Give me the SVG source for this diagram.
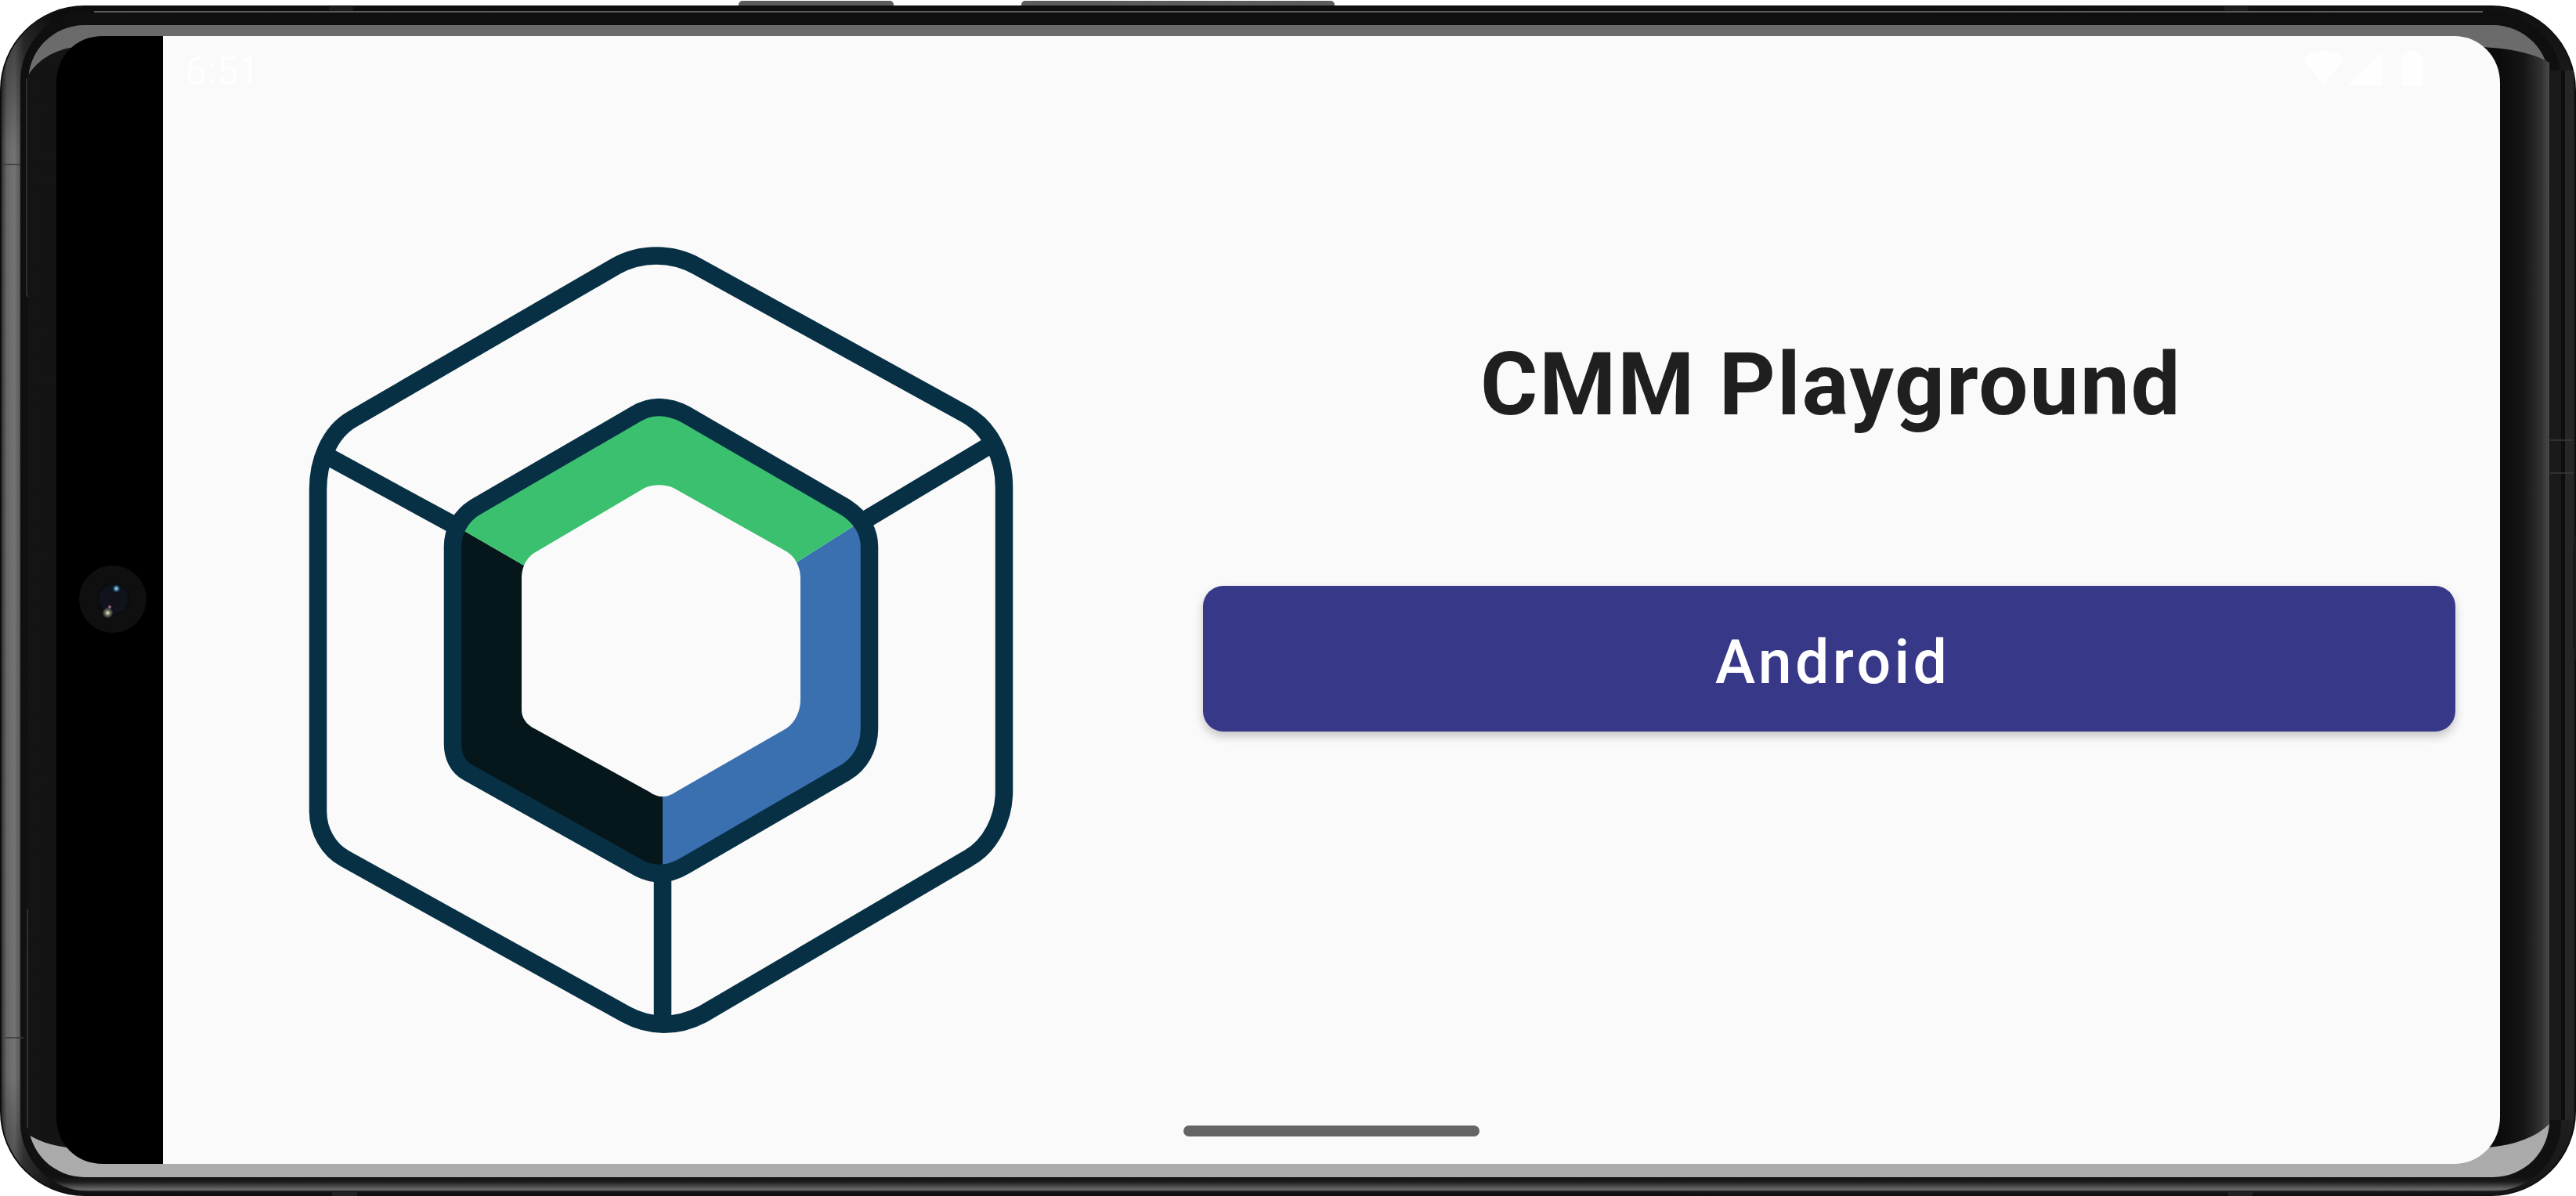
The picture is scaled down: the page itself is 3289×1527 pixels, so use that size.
<svg xmlns="http://www.w3.org/2000/svg" width="3289" height="1527" viewBox="0 0 3289 1527">
<style>
.title{font-family:Roboto,"Liberation Sans",sans-serif;font-weight:700;font-size:112px;letter-spacing:1.9px;fill:#1f1f1f}
.btn{font-family:Roboto,"Liberation Sans",sans-serif;font-weight:500;font-size:77px;letter-spacing:4.4px;fill:#fff}
.time{font-family:Roboto,"Liberation Sans",sans-serif;font-size:50px;fill:#fefefe}
.ln{fill:none;stroke:#083045;stroke-width:22.500;stroke-linejoin:round}
.seam{fill:none;stroke:#3a3a3a;stroke-width:1.5}
</style>
<defs>
<linearGradient id="rim" x1="0" x2="1" y1="0" y2="0">
<stop offset="0" stop-color="#333"/><stop offset=".002" stop-color="#666"/><stop offset=".005" stop-color="#747474"/><stop offset=".0085" stop-color="#444"/><stop offset=".02" stop-color="#1c1c1c"/><stop offset="1" stop-color="#242424"/>
</linearGradient>
<linearGradient id="rimfade" x1="0" x2="0" y1="0" y2="1">
<stop offset="0" stop-color="#000" stop-opacity=".55"/><stop offset=".12" stop-color="#000" stop-opacity="0"/><stop offset=".9" stop-color="#000" stop-opacity="0"/><stop offset="1" stop-color="#000" stop-opacity=".4"/>
</linearGradient>
<linearGradient id="glass" x1="0" x2="0" y1="0" y2="1">
<stop offset="0" stop-color="#6a6a6a"/><stop offset="1" stop-color="#acacac"/>
</linearGradient>
<linearGradient id="bez" x1="0" x2="1" y1="0" y2="0">
<stop offset="0" stop-color="#141414"/><stop offset=".98" stop-color="#0b0b0b"/><stop offset=".99" stop-color="#161616"/><stop offset=".997" stop-color="#333"/><stop offset="1" stop-color="#4a4a4a"/>
</linearGradient>
<linearGradient id="inner" x1="0" x2="0" y1="0" y2="1">
<stop offset="0" stop-color="#0f0f0f"/><stop offset=".988" stop-color="#111"/><stop offset=".992" stop-color="#1c1c1c"/><stop offset=".9985" stop-color="#6a6a6a"/><stop offset="1" stop-color="#333"/>
</linearGradient>
<radialGradient id="lens" cx=".5" cy=".5" r=".5">
<stop offset="0" stop-color="#140f16"/><stop offset=".75" stop-color="#10141e"/><stop offset="1" stop-color="#090b0d"/>
</radialGradient>
<radialGradient id="g1"><stop offset="0" stop-color="#dff2ff"/><stop offset=".4" stop-color="#3f86b0"/><stop offset="1" stop-color="#3f86b0" stop-opacity="0"/></radialGradient>
<radialGradient id="g2"><stop offset="0" stop-color="#f4f4d8"/><stop offset=".4" stop-color="#7a8068"/><stop offset="1" stop-color="#7a8068" stop-opacity="0"/></radialGradient>
<radialGradient id="g3"><stop offset="0" stop-color="#e0a0c0"/><stop offset="1" stop-color="#a06080" stop-opacity="0"/></radialGradient>
<filter id="sh" x="-5%" y="-20%" width="110%" height="140%"><feDropShadow dx="0" dy="6" stdDeviation="6" flood-color="#000" flood-opacity=".22"/></filter>
</defs>

<g id="phone-frame">
<rect width="3289" height="1527" fill="#fff"/>
<rect x="943" y="1" width="198" height="14" rx="5" fill="#5c5c5c"/>
<rect x="1304" y="1" width="400" height="14" rx="5" fill="#5c5c5c"/>
<rect x="0" y="7" width="3289" height="1520" rx="108" fill="#0e0e0e"/>
<rect x="2" y="9" width="3285" height="1516" rx="106" fill="url(#rim)"/>
<rect x="2" y="9" width="3285" height="1516" rx="106" fill="url(#rimfade)"/>
<rect x="26" y="15" width="3244" height="1506" rx="88" fill="url(#inner)"/>
<rect x="120" y="14" width="3050" height="2" fill="#5a5a5a"/>
<rect x="3256" y="90" width="14" height="1340" fill="#1a1a1a"/>
<rect x="3270" y="90" width="5" height="1340" fill="#0e0e0e"/>
<rect x="3275" y="90" width="11" height="1340" fill="#262626"/>
<path class="seam" d="M3256 562H3286M3256 604H3286"/>
<path fill="#1a1a1a" d="M3289 680l-4 20V825l4 20z"/>
<path class="seam" d="M4 210H26M6 1325H30"/>
<path class="seam" stroke-width="1" d="M34 100V376L43 389V1151L35 1163V1440"/>
<rect x="420" y="8" width="31" height="6" rx="2" fill="#1c1c1c"/>
<rect x="2840" y="8" width="31" height="6" rx="2" fill="#1c1c1c"/>
<rect x="424" y="1522" width="32" height="5" fill="#222"/>
<rect x="2845" y="1522" width="31" height="5" fill="#222"/>
<rect x="36" y="32" width="3219" height="1471" rx="72" fill="url(#glass)"/>
<path fill="url(#bez)" d="M36 96C48 76 72 62 98 60H3170C3205 62 3235 68 3255 80V1435C3238 1452 3210 1462 3177 1465H85C65 1462 46 1456 36 1448Z"/>
</g>

<g id="screen">
<path fill="#000" d="M132 46H300V1486H132C96 1486 72 1460 72 1426V106C72 72 96 46 132 46Z"/>
<path fill="#fafafa" d="M208 46H3133C3166 46 3192 72 3192 106V1426C3192 1460 3166 1486 3133 1486H208Z"/>
</g>

<g id="camera">
<circle cx="144" cy="765" r="43" fill="#0e0f0e"/>
<circle cx="145" cy="765" r="21" fill="url(#lens)"/>
<circle cx="148.500" cy="751.500" r="5" fill="url(#g1)"/>
<circle cx="137.500" cy="782.500" r="7" fill="url(#g2)"/>
<circle cx="140" cy="775" r="3" fill="url(#g3)"/>
</g>

<g id="status-bar">
<text class="time" x="236" y="108">6:51</text>
<path id="wifi" fill="#fefefe" d="M2940 75C2955 61 2978 61 2993 75L2966.500 109Z"/>
<path id="signal" fill="#fefefe" d="M2997 109L3042 66V109Z"/>
<path id="battery" fill="#fefefe" d="M3073 70V67C3073 66 3074 65 3075 65H3086C3087 65 3088 66 3088 67V70H3092C3093 70 3094 71 3094 72V108C3094 109 3093 110 3092 110H3069C3068 110 3067 109 3067 108V72C3067 71 3068 70 3069 70Z"/>
</g>

<g id="logo">
<path fill="#3a70b0" d="M1091 671L1017 718C1020 724 1022 730 1022 738V893C1022 910 1014 923 1004 930L863 1011C857 1015 852 1017 846 1017V1110L875 1105L1080 986C1098 975 1110 955 1110 930V698C1110 688 1100 678 1091 671Z"/>
<path fill="#05171b" d="M593 678L669 722C667 727 666 732 666 738V907C666 916 672 925 682 930L829 1011C835 1015 840 1017 846 1017V1110C835 1110 825 1113 817 1109L597 986C585 979 578 966 578 950V698C578 690 585 682 593 678Z"/>
<path fill="#3ac06f" d="M593 678L669 722C672 715 676 710 682 706L823 623C834 618 849 618 860 623L1004 704C1010 708 1014 712 1017 718L1091 671C1088 660 1085 654 1080 648L875 529C852 517 830 517 811 529L606 648C600 652 596 670 593 678Z"/>
<path class="ln" d="M811 529C830 517 852 517 875 529L1080 648C1098 660 1110 676 1110 698V930C1110 955 1098 975 1080 986L875 1105C855 1117 835 1118 817 1109L597 986C585 979 578 966 578 950V698C578 676 590 658 606 648Z"/>
<path class="ln" d="M786 340C818 322 858 322 890 340L1233 529C1265 547 1282 585 1282 622V1010C1282 1045 1265 1080 1236 1096L897 1295C865 1312 830 1312 799 1295L440 1096C420 1085 406 1062 406 1036V625C406 590 420 552 450 535Z"/>
<g id="connectors">
<path class="ln" d="M419 583L577 669"/>
<path class="ln" d="M1106 663L1268 566"/>
<path class="ln" d="M846 1118V1305"/>
</g>
</g>

<g id="title"><text class="title" x="1890" y="529">CMM Playground</text></g>

<g id="android-button">
<rect x="1536" y="748" width="1599" height="186" rx="26" fill="#383789" filter="url(#sh)"/>
<text class="btn" x="2190" y="872">Android</text>
</g>

<g id="home-indicator"><rect x="1511" y="1437" width="378" height="14" rx="7" fill="#646464"/></g>
</svg>
